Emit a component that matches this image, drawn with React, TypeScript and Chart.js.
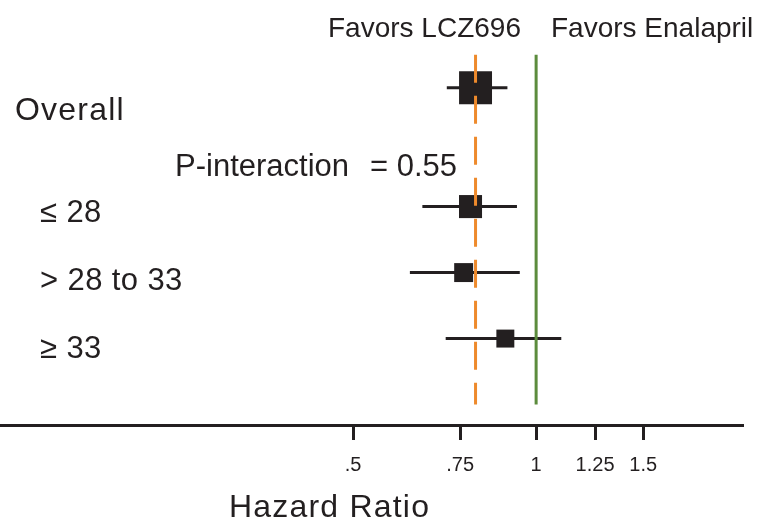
import { useEffect, useRef } from "react";
import { Chart, registerables } from "chart.js";

Chart.register(...registerables);

// Forest plot: hazard ratio by subgroup (log scale)
const subgroups = ["Overall", "≤ 28", "> 28 to 33", "≥ 33"];
const rowPos = [1, 2.8, 3.8, 4.8];
const hazardRatio = [0.795, 0.78, 0.76, 0.89];
const ciLower = [0.713, 0.65, 0.62, 0.71];
const ciUpper = [0.897, 0.93, 0.94, 1.1];
const markerRadius = [23.3, 16.3, 13.4, 12.7];
const xTicks = [0.5, 0.75, 1, 1.25, 1.5];
const xTickLabels = [".5", ".75", "1", "1.25", "1.5"];
const favorsLeft = "Favors LCZ696";
const favorsRight = "Favors Enalapril";
const pInteractionLabel = "P-interaction";
const pInteractionValue = "= 0.55";
const axisTitle = "Hazard Ratio";
const nullValue = 1;
const refLineSpan = [0.5, 5.8];

const INK = "#231f20";
const ORANGE = "#ee8a2c";
const GREEN = "#5c8c3d";
const FONT = "'Liberation Sans', Arial, Helvetica, sans-serif";

const textPlugin = {
  id: "forestText",
  afterDraw(chart: any) {
    const ctx = chart.ctx as CanvasRenderingContext2D;
    ctx.save();
    ctx.fillStyle = INK;
    ctx.textAlign = "left";
    ctx.textBaseline = "alphabetic";

    ctx.font = `28px ${FONT}`;
    ctx.fillText(favorsLeft, 328, 37);
    ctx.fillText(favorsRight, 551, 37);

    ctx.font = `32px ${FONT}`;
    (ctx as any).letterSpacing = "1.2px";
    ctx.fillText(subgroups[0], 15, 120);
    (ctx as any).letterSpacing = "0px";

    ctx.font = `31px ${FONT}`;
    ctx.fillText(pInteractionLabel, 175, 176);
    ctx.fillText(pInteractionValue, 370, 176);

    (ctx as any).letterSpacing = "0.4px";
    ctx.fillText(subgroups[1], 40, 222);
    ctx.fillText(subgroups[2], 40, 290);
    ctx.fillText(subgroups[3], 40, 358);

    ctx.font = `32px ${FONT}`;
    (ctx as any).letterSpacing = "1.2px";
    ctx.fillText(axisTitle, 229, 517);
    (ctx as any).letterSpacing = "0px";
    ctx.restore();
  },
};

export default function App() {
  const canvasRef = useRef<HTMLCanvasElement | null>(null);

  useEffect(() => {
    if (!canvasRef.current) return;

    const whiskers = subgroups.map((_, i) => ({
      data: [
        { x: ciLower[i], y: rowPos[i] },
        { x: ciUpper[i], y: rowPos[i] },
      ],
      showLine: true,
      borderColor: INK,
      borderWidth: 3,
      pointRadius: 0,
      order: 5,
    }));

    const chart = new Chart(canvasRef.current, {
      type: "scatter",
      data: {
        datasets: [
          ...whiskers,
          {
            data: hazardRatio.map((v, i) => ({ x: v, y: rowPos[i] })),
            showLine: false,
            pointStyle: "rect",
            pointRadius: markerRadius,
            pointBackgroundColor: INK,
            pointBorderWidth: 0,
            order: 4,
          },
          {
            data: refLineSpan.map((y) => ({ x: nullValue, y })),
            showLine: true,
            borderColor: GREEN,
            borderWidth: 3,
            pointRadius: 0,
            order: 3,
          },
          {
            data: refLineSpan.map((y) => ({ x: hazardRatio[0], y })),
            showLine: true,
            borderColor: ORANGE,
            borderWidth: 3,
            borderDash: [28, 13],
            pointRadius: 0,
            order: 1,
          },
        ],
      } as any,
      options: {
        animation: false,
        responsive: false,
        events: [],
        layout: { autoPadding: false, padding: { left: 0, right: 19, top: 0, bottom: 0 } },
        plugins: {
          legend: { display: false },
          tooltip: { enabled: false },
        },
        scales: {
          x: {
            type: "logarithmic",
            bounds: "data",
            min: 0.1313,
            max: 2.189,
            afterBuildTicks: (s: any) => {
              s.ticks = xTicks.map((v) => ({ value: v }));
            },
            afterFit: (s: any) => {
              s.height = 98;
              s.paddingLeft = 0;
              s.paddingRight = 0;
            },
            grid: {
              display: true,
              drawOnChartArea: false,
              drawTicks: true,
              tickLength: 15,
              tickWidth: 3,
              tickColor: INK,
            },
            border: { display: true, color: INK, width: 3 },
            ticks: {
              autoSkip: false,
              maxRotation: 0,
              minRotation: 0,
              padding: 13,
              color: INK,
              font: { size: 20, family: FONT },
              callback: (_v: any, i: number) => xTickLabels[i],
            },
          },
          y: {
            type: "linear",
            display: false,
            reverse: true,
            min: -0.33,
            max: -0.33 + 425 / 66,
          },
        },
      } as any,
      plugins: [textPlugin],
    });

    return () => chart.destroy();
  }, []);

  return (
    <div style={{ position: "fixed", left: 0, top: 0, width: 762, height: 523, background: "#fff" }}>
      <canvas ref={canvasRef} width={762} height={523} style={{ display: "block" }} />
    </div>
  );
}
